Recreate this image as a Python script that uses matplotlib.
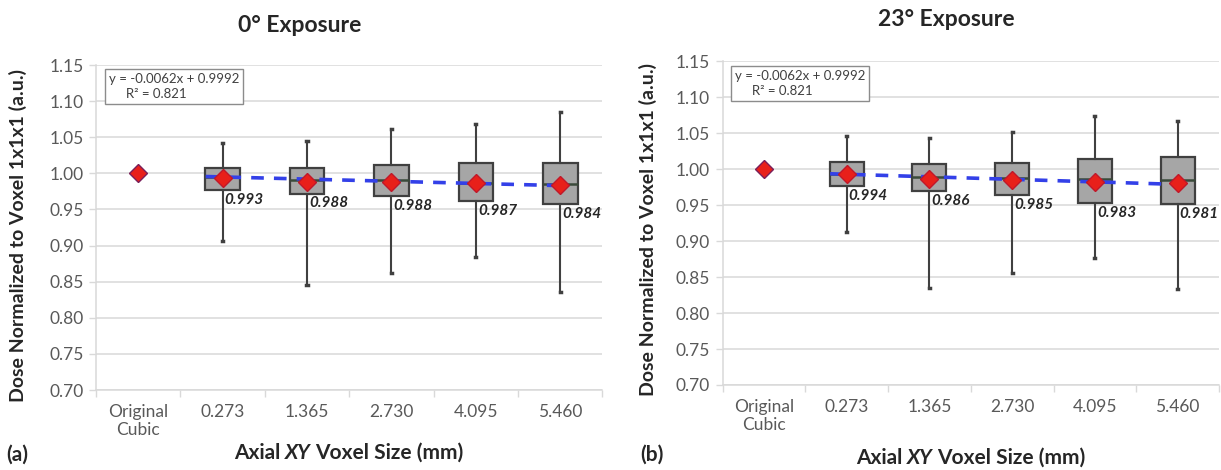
import matplotlib
matplotlib.use('Agg')
import matplotlib.pyplot as plt
from matplotlib.ticker import MultipleLocator, FormatStrFormatter

plt.rcParams['font.family'] = ['Lato', 'DejaVu Sans']

categories = ['Original\nCubic', '0.273', '1.365', '2.730', '4.095', '5.460']
original_value = 1.000

# (a) 0 deg exposure, box stats
a_whislo = [0.906, 0.845, 0.862, 0.884, 0.836]
a_q1 = [0.977, 0.972, 0.969, 0.962, 0.9575]
a_med = [0.9945, 0.991, 0.991, 0.986, 0.985]
a_q3 = [1.008, 1.007, 1.011, 1.014, 1.015]
a_whishi = [1.042, 1.045, 1.061, 1.068, 1.085]
a_mean = [0.993, 0.988, 0.988, 0.987, 0.984]
a_trend = [0.9956, 0.983]

# (b) 23 deg exposure
b_whislo = [0.913, 0.8345, 0.856, 0.876, 0.833]
b_q1 = [0.977, 0.970, 0.964, 0.953, 0.952]
b_med = [0.994, 0.989, 0.9875, 0.986, 0.985]
b_q3 = [1.0097, 1.007, 1.009, 1.015, 1.0175]
b_whishi = [1.046, 1.043, 1.0515, 1.074, 1.067]
b_mean = [0.994, 0.986, 0.985, 0.983, 0.981]
b_trend = [0.9938, 0.979]

trend_x = [0.8, 5.0]
fit_text = 'y = -0.0062x + 0.9992\n     R\u00b2 = 0.821'

GRID = '#d9d9d9'
TICK = '#595959'


def draw_panel(ax, whislo, q1, med, q3, whishi, mean, trend):
    stats = []
    for i in range(len(mean)):
        stats.append(dict(whislo=whislo[i], q1=q1[i], med=med[i], q3=q3[i],
                          whishi=whishi[i], fliers=[]))
    pos = list(range(1, len(mean) + 1))
    ax.bxp(stats, positions=pos, widths=0.41, patch_artist=True,
           showfliers=False, manage_ticks=False,
           boxprops=dict(facecolor='#a6a6a6', edgecolor='#404040', linewidth=1.6),
           medianprops=dict(color='#3a4a3a', linewidth=1.8),
           whiskerprops=dict(color='#404040', linewidth=1.5),
           capprops=dict(color='#404040', linewidth=2.5), capwidths=0.012)
    ax.plot(trend_x, trend, color='#3340e8', lw=2.6, ls=(0, (3.5, 2.8)), zorder=4)
    ax.plot(pos, mean, 'D', color='#e8201a', markeredgecolor='#c0182a',
            markersize=9, zorder=5)
    ax.plot([0], [original_value], 'D', color='#e8201a', markeredgecolor='#7a1f5a',
            markersize=9, zorder=5)
    for i, m in enumerate(mean):
        ax.annotate('%.3f' % m, xy=(pos[i], q1[i]), xytext=(1.5, -2),
                    textcoords='offset points', ha='left', va='top',
                    fontsize=11, fontweight='bold', fontstyle='italic',
                    color='#262626', zorder=6)

    ax.set_xlim(-0.5, 5.5)
    ax.set_ylim(0.70, 1.15)
    ax.yaxis.set_major_locator(MultipleLocator(0.05))
    ax.yaxis.set_major_formatter(FormatStrFormatter('%.2f'))
    ax.set_xticks(range(len(categories)))
    ax.set_xticklabels(categories, linespacing=1.15)
    ax.set_xticks([x - 0.5 for x in range(len(categories) + 1)], minor=True)
    ax.tick_params(axis='x', which='major', length=0, pad=10, labelsize=12.5,
                   labelcolor=TICK)
    ax.tick_params(axis='x', which='minor', length=5, color=GRID, width=1)
    ax.tick_params(axis='y', length=5, color=GRID, width=1, pad=4,
                   labelsize=12.5, labelcolor=TICK)
    ax.yaxis.grid(True, color=GRID, lw=1.1)
    ax.set_axisbelow(True)
    for s in ['top', 'right']:
        ax.spines[s].set_visible(False)
    for s in ['left', 'bottom']:
        ax.spines[s].set_color(GRID)
        ax.spines[s].set_linewidth(1.1)
    ax.text(0.025, 0.975, fit_text, transform=ax.transAxes, ha='left', va='top',
            fontsize=9.5, color='#404040', linespacing=1.3,
            bbox=dict(boxstyle='square,pad=0.3', facecolor='white',
                      edgecolor='#8c8c8c', linewidth=1))


fig = plt.figure(figsize=(12.21, 4.70), dpi=100)
ax_a = fig.add_axes([0.0786, 0.1702, 0.4148, 0.6915])
ax_b = fig.add_axes([0.5918, 0.1809, 0.4066, 0.6883])

draw_panel(ax_a, a_whislo, a_q1, a_med, a_q3, a_whishi, a_mean, a_trend)
draw_panel(ax_b, b_whislo, b_q1, b_med, b_q3, b_whishi, b_mean, b_trend)

fig.text(300 / 1221, 1 - 25 / 470, '0\u00b0 Exposure', ha='center', va='center',
         fontsize=16.5, fontweight='bold', color='#262626')
fig.text(946 / 1221, 1 - 20 / 470, '23\u00b0 Exposure', ha='center', va='center',
         fontsize=16.5, fontweight='bold', color='#262626')

ylab = 'Dose Normalized to Voxel 1x1x1 (a.u.)'
fig.text(18 / 1221, 1 - 235 / 470, ylab, rotation=90, ha='center', va='center',
         fontsize=14, fontweight='bold', color='#262626')
fig.text(648 / 1221, 1 - 230 / 470, ylab, rotation=90, ha='center', va='center',
         fontsize=14, fontweight='bold', color='#262626')

fig.text(6 / 1221, 1 - 455 / 470, '(a)', ha='left', va='center',
         fontsize=15, fontweight='bold', color='#262626')
fig.text(640 / 1221, 1 - 455 / 470, '(b)', ha='left', va='center',
         fontsize=15, fontweight='bold', color='#262626')


def xlabel(cx, cy):
    kw = dict(fontsize=15, fontweight='bold', color='#262626', va='center')
    t1 = fig.text(cx, cy, 'Axial', ha='left', **kw)
    t2 = fig.text(cx, cy, 'XY', ha='left', fontstyle='italic', **kw)
    t3 = fig.text(cx, cy, 'Voxel Size (mm)', ha='left', **kw)
    r = fig.canvas.get_renderer()
    gap = 4.5
    w1 = t1.get_window_extent(r).width
    w2 = t2.get_window_extent(r).width
    w3 = t3.get_window_extent(r).width
    total = w1 + w2 + w3 + 2 * gap
    x0 = cx * 1221 - total / 2
    t1.set_x(x0 / 1221)
    t2.set_x((x0 + w1 + gap) / 1221)
    t3.set_x((x0 + w1 + w2 + 2 * gap) / 1221)


xlabel(349 / 1221, 1 - 453 / 470)
xlabel(971 / 1221, 1 - 458 / 470)

fig.savefig('out.png', dpi=100)
